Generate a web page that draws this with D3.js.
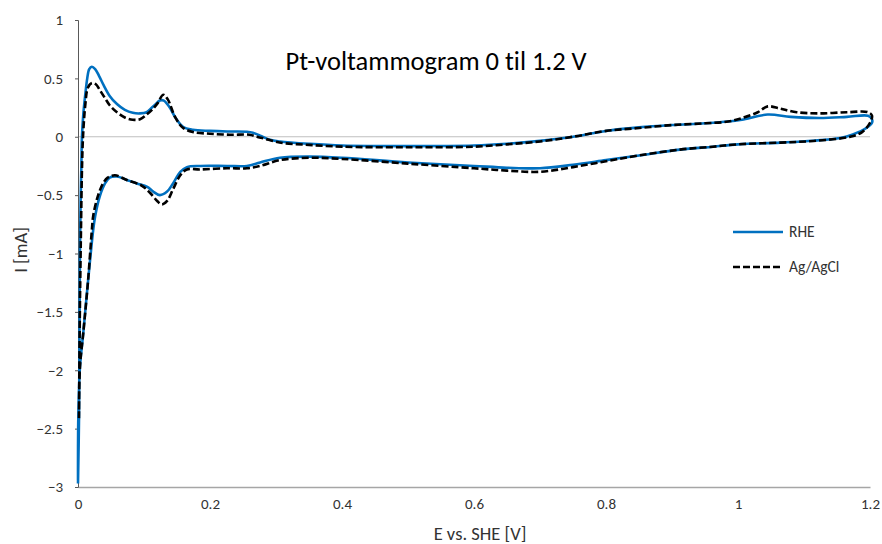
<!DOCTYPE html>
<html><head><meta charset="utf-8">
<script src="https://cdn.jsdelivr.net/npm/d3@7"></script>
<style>
html,body{margin:0;padding:0;background:#fff;}
text{font-family:Carlito,Lato,"Liberation Sans",sans-serif;font-variant-ligatures:none;font-feature-settings:"liga" 0,"dlig" 0;}
</style></head>
<body><svg id="c" width="882" height="544"></svg>
<script>
const title = "Pt-voltammogram 0 til 1.2 V";
const xTitle = "E vs. SHE [V]";
const yTitle = "I [mA]";
const xTicks = [0,0.2,0.4,0.6,0.8,1,1.2];
const yTicks = [1,0.5,0,-0.5,-1,-1.5,-2,-2.5,-3];
const seriesNames = ["RHE","Ag/AgCl"];

const rheE = [0.000,0.0015,0.0023,0.003,0.004,0.005,0.006,0.008,0.011,0.014,0.017,0.021,0.026,0.032,0.039,0.048,0.059,0.071,0.083,0.094,0.104,0.112,0.118,0.124,0.130,0.139,0.147,0.159,0.174,0.2,0.226,0.256,0.265,0.276,0.291,0.306,0.35,0.4,0.5,0.6,0.65,0.7,0.75,0.8,0.85,0.9,0.95,0.985,1.006,1.045,1.08,1.124,1.165,1.197,1.203,1.203,1.195,1.174,1.155,1.114,1.064,1.0,0.962,0.912,0.85,0.8,0.75,0.7,0.65,0.6,0.5,0.4,0.35,0.306,0.276,0.256,0.226,0.185,0.165,0.155,0.144,0.135,0.124,0.114,0.105,0.089,0.074,0.059,0.048,0.041,0.033,0.026,0.023,0.015,0.008,0.003,0.0005,0.0];
const rheI = [-2.97,-2.42,-1.65,-0.97,-0.54,-0.28,0.0,0.19,0.36,0.50,0.58,0.60,0.58,0.52,0.44,0.35,0.28,0.23,0.205,0.20,0.21,0.25,0.28,0.31,0.31,0.25,0.17,0.086,0.06,0.05,0.045,0.043,0.035,0.01,-0.026,-0.04,-0.06,-0.075,-0.08,-0.075,-0.06,-0.035,0.0,0.05,0.08,0.1,0.115,0.13,0.146,0.19,0.17,0.16,0.17,0.18,0.15,0.12,0.077,0.02,-0.01,-0.034,-0.05,-0.065,-0.085,-0.11,-0.16,-0.2,-0.24,-0.27,-0.265,-0.25,-0.22,-0.18,-0.17,-0.18,-0.22,-0.25,-0.25,-0.25,-0.26,-0.30,-0.40,-0.47,-0.50,-0.47,-0.43,-0.40,-0.37,-0.34,-0.35,-0.40,-0.51,-0.68,-0.80,-1.25,-1.68,-1.97,-2.40,-2.94];

const agE = [0.0015,0.003,0.0045,0.006,0.0076,0.011,0.015,0.021,0.027,0.033,0.041,0.048,0.059,0.071,0.083,0.094,0.104,0.112,0.121,0.129,0.136,0.147,0.159,0.174,0.2,0.23,0.26,0.271,0.283,0.298,0.312,0.35,0.4,0.5,0.6,0.65,0.7,0.75,0.8,0.85,0.9,0.95,0.985,1.006,1.03,1.045,1.064,1.089,1.124,1.165,1.197,1.203,1.2,1.188,1.17,1.114,1.064,1.0,0.962,0.912,0.85,0.8,0.75,0.7,0.65,0.6,0.5,0.4,0.35,0.306,0.276,0.256,0.226,0.185,0.165,0.155,0.144,0.135,0.127,0.12,0.109,0.097,0.074,0.056,0.045,0.038,0.030,0.023,0.021,0.015,0.008,0.003,0.0015];
const agI = [-2.41,-1.4,-0.8,-0.28,0.0,0.27,0.42,0.46,0.45,0.40,0.33,0.27,0.21,0.165,0.146,0.15,0.19,0.23,0.29,0.36,0.32,0.17,0.077,0.04,0.026,0.017,0.017,0.0,-0.017,-0.04,-0.055,-0.07,-0.085,-0.09,-0.085,-0.065,-0.04,0.0,0.05,0.075,0.1,0.115,0.13,0.16,0.21,0.26,0.24,0.21,0.2,0.21,0.21,0.18,0.12,0.04,0.0,-0.036,-0.05,-0.065,-0.085,-0.11,-0.16,-0.21,-0.26,-0.3,-0.29,-0.27,-0.23,-0.19,-0.18,-0.2,-0.25,-0.27,-0.27,-0.28,-0.28,-0.33,-0.45,-0.55,-0.58,-0.55,-0.48,-0.42,-0.37,-0.33,-0.35,-0.40,-0.51,-0.68,-0.80,-1.25,-1.68,-1.97,-2.41];

const svg = d3.select("#c");
const x = d3.scaleLinear().domain([0,1.2]).range([78,870]);
const y = d3.scaleLinear().domain([-3,1]).range([487,20]);

svg.append("line").attr("x1",x(0)).attr("x2",x(1.2)).attr("y1",y(0)).attr("y2",y(0))
  .attr("stroke","#bfbfbf").attr("stroke-width",1);

const xAxis = svg.append("g").attr("transform",`translate(0,${y(-3)})`)
  .call(d3.axisBottom(x).tickValues(xTicks).tickSize(0).tickPadding(11).tickFormat(d3.format("")));
xAxis.select(".domain").attr("stroke","#a6a6a6").attr("stroke-width",1.3);
xAxis.selectAll("text").attr("font-size",15).attr("fill","#333");

const yAxis = svg.append("g").attr("transform",`translate(${x(0)},0)`)
  .call(d3.axisLeft(y).tickValues(yTicks).tickSize(3).tickPadding(12).tickFormat(d3.format("")));
yAxis.select(".domain").attr("stroke","#595959").attr("stroke-width",1);
yAxis.selectAll(".tick line").attr("stroke","#595959");
yAxis.selectAll("text").attr("font-size",15).attr("fill","#333");

const line = d3.line().x(d=>x(d[0])).y(d=>y(d[1])).curve(d3.curveCatmullRom.alpha(0.5));
const rhe = rheE.map((e,i)=>[e,rheI[i]]);
const ag = agE.map((e,i)=>[e,agI[i]]);

svg.append("path").datum(rhe).attr("d",line).attr("fill","none")
  .attr("stroke","#0070C0").attr("stroke-width",2.6).attr("stroke-linejoin","round");
svg.append("path").datum(ag).attr("d",line).attr("fill","none")
  .attr("stroke","#000").attr("stroke-width",2.6).attr("stroke-dasharray","7,3");

svg.append("text").attr("x",436).attr("y",70).attr("text-anchor","middle")
  .attr("font-size",26.5).attr("fill","#000").text(title);

svg.append("text").attr("x",480).attr("y",540).attr("text-anchor","middle")
  .attr("font-size",18.5).attr("fill","#333").text(xTitle);
svg.append("text").attr("transform","translate(27,250) rotate(-90)").attr("text-anchor","middle")
  .attr("font-size",18.5).attr("fill","#333").text(yTitle);

const leg = svg.append("g");
const colors = ["#0070C0","#000"];
const dashes = [null,"7,3"];
seriesNames.forEach((n,i)=>{
  const yy = 232 + i*35;
  leg.append("line").attr("x1",733).attr("x2",783).attr("y1",yy).attr("y2",yy)
    .attr("stroke",colors[i]).attr("stroke-width",2.6).attr("stroke-dasharray",dashes[i]);
  leg.append("text").attr("x",789).attr("y",yy+5).attr("font-size",15.5).attr("fill","#333").text(n);
});
</script></body></html>
